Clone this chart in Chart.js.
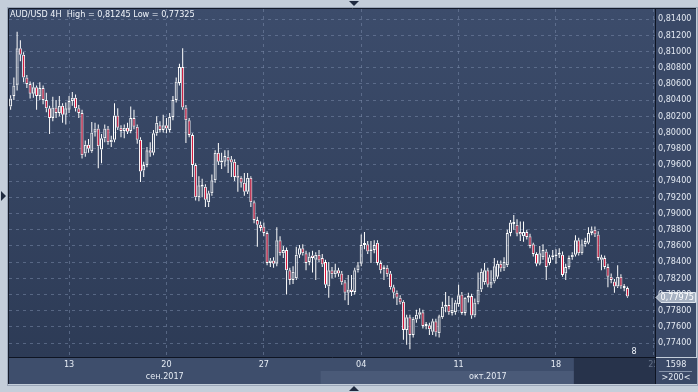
<!DOCTYPE html>
<html>
<head>
<meta charset="utf-8">
<script src="https://cdn.jsdelivr.net/npm/chart.js@4.4.0/dist/chart.umd.min.js"></script>
<style>
html, body { margin: 0; padding: 0; background: #c4ceda; }
canvas { display: block; }
</style>
</head>
<body>
<canvas id="myChart" width="698" height="392"></canvas>
<script>
// AUD/USD 4H candles (0.xxxxx)
var opens = [
0.8032,0.8045,0.8058,0.8104,0.8096,0.8068,0.8060,0.8048,0.8056,0.8045,
0.8055,0.8040,0.8030,0.8018,0.8031,0.8024,0.8033,0.8022,0.8028,0.8039,
0.8043,0.8030,0.8024,0.7974,0.7985,0.7977,0.8000,0.8005,0.7979,0.7993,
0.8005,0.7988,0.7991,0.8021,0.8006,0.8002,0.8006,0.8002,0.8018,0.8007,
0.7991,0.7953,0.7960,0.7978,0.7975,0.7999,0.8009,0.8003,0.8009,0.8003,
0.8019,0.8040,0.8061,0.8081,0.8031,0.8015,0.7997,0.7960,0.7920,0.7935,
0.7933,0.7914,0.7925,0.7941,0.7975,0.7963,0.7964,0.7970,0.7967,0.7964,
0.7947,0.7944,0.7938,0.7927,0.7944,0.7914,0.7892,0.7886,0.7884,0.7876,
0.7839,0.7842,0.7838,0.7867,0.7851,0.7855,0.7830,0.7818,0.7820,0.7849,
0.7857,0.7851,0.7840,0.7848,0.7843,0.7849,0.7845,0.7840,0.7810,0.7830,
0.7825,0.7830,0.7826,0.7815,0.7802,0.7806,0.7803,0.7830,0.7838,0.7861,
0.7862,0.7853,0.7855,0.7864,0.7839,0.7831,0.7833,0.7826,0.7809,0.7802,
0.7796,0.7791,0.7756,0.7772,0.7750,0.7769,0.7775,0.7778,0.7761,0.7762,
0.7754,0.7767,0.7752,0.7772,0.7785,0.7787,0.7777,0.7778,0.7788,0.7800,
0.7777,0.7796,0.7798,0.7774,0.7790,0.7806,0.7815,0.7830,0.7812,0.7816,
0.7822,0.7838,0.7832,0.7836,0.7876,0.7889,0.7886,0.7877,0.7872,0.7877,
0.7872,0.7862,0.7850,0.7838,0.7846,0.7853,0.7839,0.7846,0.7847,0.7849,
0.7849,0.7826,0.7834,0.7846,0.7849,0.7867,0.7851,0.7862,0.7864,0.7876,
0.7880,0.7874,0.7843,0.7845,0.7834,0.7822,0.7816,0.7810,0.7822,0.7810,
0.7808
];
var highs = [
0.8046,0.8068,0.81245,0.8114,0.8099,0.8071,0.8063,0.8062,0.8058,0.8062,
0.8058,0.8049,0.8033,0.8044,0.8040,0.8045,0.8036,0.8037,0.8045,0.8050,
0.8047,0.8034,0.8028,0.7990,0.7992,0.8013,0.8012,0.8010,0.7998,0.8010,
0.8008,0.7996,0.8036,0.8030,0.8009,0.8010,0.8012,0.8032,0.8028,0.8010,
0.7994,0.7964,0.7982,0.7988,0.8003,0.8020,0.8014,0.8022,0.8018,0.8024,
0.8045,0.8068,0.8085,0.8104,0.8034,0.8018,0.7999,0.7962,0.7946,0.7943,
0.7936,0.7928,0.7948,0.7978,0.7987,0.7975,0.7978,0.7978,0.7971,0.7967,
0.7960,0.7946,0.7950,0.7950,0.7946,0.7916,0.7896,0.7890,0.7889,0.7878,
0.7845,0.7846,0.7883,0.7872,0.7860,0.7858,0.7833,0.7835,0.7859,0.7861,
0.7862,0.7854,0.7852,0.7854,0.7852,0.7855,0.7850,0.7843,0.7840,0.7834,
0.7838,0.7833,0.7829,0.7818,0.7824,0.7824,0.7833,0.7840,0.7874,0.7877,
0.7866,0.7866,0.7867,0.7867,0.7842,0.7836,0.7836,0.7829,0.7812,0.7805,
0.7799,0.7793,0.7775,0.7775,0.7772,0.7781,0.7783,0.7781,0.7766,0.7765,
0.7770,0.7770,0.7775,0.7791,0.7803,0.7798,0.7796,0.7793,0.7812,0.7803,
0.7797,0.7802,0.7801,0.7795,0.7827,0.7832,0.7839,0.7833,0.7830,0.7845,
0.7842,0.7842,0.7846,0.7880,0.7892,0.7898,0.7893,0.7890,0.7890,0.7880,
0.7875,0.7864,0.7852,0.7860,0.7862,0.7856,0.7849,0.7855,0.7856,0.7857,
0.7853,0.7838,0.7848,0.7852,0.7873,0.7870,0.7868,0.7870,0.7883,0.7884,
0.7884,0.7878,0.7849,0.7848,0.7838,0.7826,0.7819,0.7836,0.7825,0.7813,
0.7810
];
var lows = [
0.8028,0.8040,0.8052,0.8088,0.8062,0.8055,0.8042,0.8043,0.8028,0.8040,
0.8035,0.8025,0.7998,0.8014,0.8018,0.8020,0.8012,0.8010,0.8024,0.8033,
0.8026,0.8018,0.7968,0.7970,0.7975,0.7975,0.7995,0.7956,0.7962,0.7988,
0.7985,0.7982,0.7988,0.8003,0.7994,0.7993,0.7998,0.7999,0.8004,0.7986,
0.7939,0.7945,0.7957,0.7970,0.7972,0.7996,0.8000,0.8000,0.7999,0.8000,
0.8015,0.8037,0.8058,0.8028,0.7987,0.7994,0.7945,0.7916,0.7915,0.7920,
0.7908,0.7908,0.7922,0.7938,0.7960,0.7955,0.7958,0.7950,0.7945,0.7940,
0.7927,0.7932,0.7922,0.7924,0.7908,0.7888,0.7859,0.7878,0.7872,0.7836,
0.7834,0.7833,0.7835,0.7848,0.7845,0.7800,0.7812,0.7813,0.7818,0.7845,
0.7848,0.7830,0.7836,0.7827,0.7818,0.7840,0.7834,0.7808,0.7796,0.7820,
0.7821,0.7822,0.7812,0.7793,0.7787,0.7798,0.7800,0.7827,0.7835,0.7856,
0.7850,0.7839,0.7851,0.7836,0.7826,0.7818,0.7822,0.7806,0.7795,0.7787,
0.7788,0.7744,0.7738,0.77325,0.7747,0.7765,0.7770,0.7758,0.7757,0.7750,
0.7750,0.7748,0.7747,0.7770,0.7778,0.7775,0.7774,0.7775,0.7785,0.7775,
0.7774,0.7790,0.7770,0.7772,0.7788,0.7803,0.7812,0.7809,0.7808,0.7814,
0.7819,0.7828,0.7829,0.7834,0.7872,0.7880,0.7872,0.7866,0.7865,0.7868,
0.7857,0.7847,0.7835,0.7836,0.7843,0.7818,0.7836,0.7843,0.7838,0.7845,
0.7822,0.7818,0.7831,0.7843,0.7847,0.7848,0.7849,0.7859,0.7862,0.7873,
0.7871,0.7842,0.7830,0.7831,0.7809,0.7814,0.7802,0.7808,0.7807,0.7804,
0.7796
];
var closes = [
0.8042,0.8058,0.8104,0.8096,0.8068,0.8060,0.8048,0.8056,0.8045,0.8055,
0.8040,0.8030,0.8018,0.8031,0.8024,0.8033,0.8022,0.8030,0.8039,0.8043,
0.8030,0.8024,0.7972,0.7985,0.7980,0.8000,0.8005,0.7983,0.7993,0.8005,
0.7988,0.7991,0.8021,0.8006,0.8002,0.8006,0.8001,0.8018,0.8007,0.7991,
0.7952,0.7960,0.7978,0.7975,0.7999,0.8012,0.8003,0.8009,0.8005,0.8019,
0.8040,0.8063,0.8081,0.8031,0.8015,0.7997,0.7960,0.7920,0.7935,0.7933,
0.7917,0.7925,0.7941,0.7975,0.7964,0.7965,0.7971,0.7965,0.7963,0.7945,
0.7944,0.7938,0.7927,0.7944,0.7914,0.7892,0.7886,0.7882,0.7876,0.7839,
0.7842,0.7838,0.7867,0.7851,0.7855,0.7830,0.7818,0.7828,0.7849,0.7857,
0.7851,0.7839,0.7847,0.7845,0.7849,0.7842,0.7837,0.7812,0.7830,0.7825,
0.7830,0.7826,0.7815,0.7802,0.7806,0.7803,0.7830,0.7836,0.7861,0.7862,
0.7853,0.7855,0.7861,0.7839,0.7830,0.7833,0.7825,0.7809,0.7802,0.7796,
0.7790,0.7756,0.7772,0.7750,0.7770,0.7775,0.7778,0.7761,0.7763,0.7757,
0.7767,0.7753,0.7773,0.7785,0.7787,0.7778,0.7781,0.7790,0.7799,0.7777,
0.7796,0.7798,0.7774,0.7790,0.7806,0.7828,0.7830,0.7812,0.7816,0.7835,
0.7838,0.7832,0.7840,0.7876,0.7889,0.7887,0.7875,0.7874,0.7877,0.7871,
0.7860,0.7850,0.7838,0.7851,0.7855,0.7834,0.7846,0.7848,0.7849,0.7850,
0.7824,0.7834,0.7845,0.7849,0.7867,0.7851,0.7862,0.7866,0.7876,0.7879,
0.7874,0.7845,0.7846,0.7834,0.7822,0.7818,0.7810,0.7822,0.7810,0.7808,
0.77975
];

// time axis: 199 slots of 4H in the window, day ticks every 30 bars
var slotCount = 199;
var dayTickIdx = [18, 48, 78, 108, 138, 168, 198];
var dayTickText = ['13', '20', '27', '04', '11', '18', '25'];
var monthText = ['сен.2017', 'окт.2017'];
var monthStartIdx = [0, 96];
var scrollStartIdx = 174;

var yMin = 0.77228, yMax = 0.81525, yStep = 0.002;
var titleText = 'AUD/USD 4H  High = 0,81245 Low = 0,77325';

var FONT = "'DejaVu Sans Condensed', 'Liberation Sans', Arial, sans-serif";
var gridColor = 'rgba(120,136,168,0.55)';
var upFill = 'rgba(0,0,0,0)';
var downFill = '#e3163b';

// size text so it takes about the same width as in the terminal
var mctx = document.createElement('canvas').getContext('2d');
mctx.font = '10px ' + FONT;
function fitSize(txt, target) {
    return Math.min(11, Math.round(10 * target / mctx.measureText(txt).width * 2) / 2);
}
var fontSize = fitSize('0,81400', 33);
var titleSize = fitSize(titleText, 183);

var labels = [];
for (var i = 0; i < slotCount; i++) labels.push('');
dayTickIdx.forEach(function (k, n) { labels[k] = dayTickText[n]; });

var wickLow = lows.map(function (l, i) { return [l, Math.min(opens[i], closes[i])]; });
var wickHigh = highs.map(function (h, i) { return [Math.max(opens[i], closes[i]), h]; });
var bodies = opens.map(function (o, i) { return [o, closes[i]]; });
var bodyFill = opens.map(function (o, i) { return closes[i] < o ? downFill : upFill; });

function fmt(v) { return v.toFixed(5).replace('.', ','); }

// backgrounds, panels and the terminal's extra labels
var framePlugin = {
    id: 'frame',
    beforeDraw: function (chart) {
        var ctx = chart.ctx, a = chart.chartArea, xs = chart.scales.x, ys = chart.scales.y;
        var step = (a.right - a.left) / slotCount;
        ctx.save();
        ctx.fillStyle = '#c4ceda';
        ctx.fillRect(0, 0, chart.width, chart.height);
        ctx.strokeStyle = '#9aa6b8';
        ctx.strokeRect(7.5, 7.5, 690, 378);

        var g = ctx.createLinearGradient(0, a.top, 0, a.bottom);
        g.addColorStop(0, '#3c4c6b');
        g.addColorStop(1, '#2d3b56');
        ctx.fillStyle = g;
        ctx.fillRect(a.left, a.top, a.right - a.left, a.bottom - a.top);

        // price axis panel
        ctx.fillStyle = '#3a4967';
        ctx.fillRect(a.right, a.top, ys.width, a.bottom - a.top);
        // time axis panel
        ctx.fillStyle = '#3e4e6c';
        ctx.fillRect(a.left, a.bottom, a.right - a.left, xs.height);

        // month bands
        var edges = monthStartIdx.map(function (k) { return a.left + k * step; });
        edges.push(a.right);
        ctx.fillStyle = '#4a5a78';
        ctx.fillRect(edges[1], a.bottom + 14, edges[2] - edges[1], xs.height - 14);
        var sx = a.left + scrollStartIdx * step;
        ctx.fillStyle = '#27334b';
        ctx.fillRect(sx, a.bottom, a.right - sx, xs.height);

        ctx.fillStyle = '#e6ecf4';
        ctx.font = fontSize + 'px ' + FONT;
        ctx.textAlign = 'center';
        ctx.textBaseline = 'middle';
        for (var m = 0; m < monthText.length; m++) {
            ctx.fillText(monthText[m], (edges[m] + edges[m + 1]) / 2, a.bottom + 20);
        }
        ctx.restore();
    },
    afterDraw: function (chart) {
        var ctx = chart.ctx, a = chart.chartArea, ys = chart.scales.y, xs = chart.scales.x;
        ctx.save();
        // plot border
        ctx.strokeStyle = '#151c2b';
        ctx.beginPath();
        ctx.moveTo(a.left - 0.5, a.bottom + xs.height);
        ctx.lineTo(a.left - 0.5, a.top - 0.5);
        ctx.lineTo(a.right + ys.width, a.top - 0.5);
        ctx.stroke();

        ctx.textBaseline = 'middle';
        ctx.fillStyle = '#f0f4fa';
        ctx.textAlign = 'left';
        ctx.font = titleSize + 'px ' + FONT;
        ctx.fillText(titleText, a.left + 1, a.top + 6);

        ctx.font = fontSize + 'px ' + FONT;
        ctx.textAlign = 'center';
        ctx.fillText('8', a.right - 21, a.bottom - 5);

        // last price tag
        var last = closes[closes.length - 1];
        var py = Math.round(ys.getPixelForValue(last)) + 0.5;
        ctx.beginPath();
        ctx.moveTo(a.right + 1, py);
        ctx.lineTo(a.right + 6, py - 5);
        ctx.lineTo(a.right + 40.5, py - 5);
        ctx.lineTo(a.right + 40.5, py + 5);
        ctx.lineTo(a.right + 6, py + 5);
        ctx.closePath();
        ctx.fillStyle = '#a7b2c2';
        ctx.fill();
        ctx.strokeStyle = '#dfe5ed';
        ctx.stroke();
        ctx.fillStyle = '#ffffff';
        ctx.textAlign = 'right';
        ctx.fillText(fmt(last), a.right + 39, py);

        // corner box
        ctx.fillStyle = '#3a4967';
        ctx.fillRect(a.right + 1, a.bottom + 1, ys.width, xs.height - 1);
        ctx.strokeStyle = '#0e1422';
        ctx.beginPath();
        ctx.moveTo(a.right + 0.5, a.bottom);
        ctx.lineTo(a.right + 0.5, a.bottom + xs.height);
        ctx.stroke();
        ctx.fillStyle = '#e6ecf4';
        ctx.textAlign = 'center';
        ctx.fillText('1598', a.right + 21, a.bottom + 8);
        ctx.fillText('>200<', a.right + 21, a.bottom + 21);
        ctx.strokeStyle = '#8795ab';
        ctx.beginPath();
        ctx.moveTo(a.right + 4, a.bottom + 14.5);
        ctx.lineTo(a.right + 37, a.bottom + 14.5);
        ctx.stroke();

        // scroll arrows on the frame
        ctx.fillStyle = '#1f2a3f';
        ctx.beginPath();
        ctx.moveTo(349, 1); ctx.lineTo(359, 1); ctx.lineTo(354, 6); ctx.closePath(); ctx.fill();
        ctx.beginPath();
        ctx.moveTo(349, 391); ctx.lineTo(359, 391); ctx.lineTo(354, 386); ctx.closePath(); ctx.fill();
        ctx.beginPath();
        ctx.moveTo(1, 191); ctx.lineTo(1, 201); ctx.lineTo(6, 196); ctx.closePath(); ctx.fill();
        ctx.restore();
    }
};

var ctx = document.getElementById('myChart').getContext('2d');
var chart = new Chart(ctx, {
    type: 'bar',
    data: {
        labels: labels,
        datasets: [
            { data: wickLow, backgroundColor: '#ffffff', barThickness: 1, grouped: false, order: 2, inflateAmount: 0 },
            { data: wickHigh, backgroundColor: '#ffffff', barThickness: 1, grouped: false, order: 2, inflateAmount: 0 },
            {
                data: bodies, backgroundColor: bodyFill, borderColor: '#ffffff', borderWidth: 1,
                borderSkipped: false, barThickness: 3, minBarLength: 2, grouped: false, order: 1, inflateAmount: 0
            }
        ]
    },
    options: {
        responsive: false,
        animation: false,
        devicePixelRatio: 1,
        layout: { padding: { left: 9, top: 9, right: 2, bottom: 8 } },
        plugins: { legend: { display: false }, tooltip: { enabled: false } },
        scales: {
            x: {
                grid: {
                    offset: false, drawTicks: false,
                    color: function (c) { return labels[c.index] ? gridColor : 'rgba(0,0,0,0)'; }
                },
                border: { display: true, color: '#0e1422', dash: [3, 4] },
                ticks: {
                    autoSkip: false, maxRotation: 0, padding: 2,
                    font: { family: FONT, size: fontSize },
                    color: function (c) { return c.index >= scrollStartIdx ? '#66738a' : '#e6ecf4'; }
                },
                afterFit: function (s) { s.height = 27; }
            },
            y: {
                position: 'right',
                min: yMin,
                max: yMax,
                grid: { color: gridColor, drawTicks: false },
                border: { display: true, color: '#0e1422', dash: [3, 4] },
                ticks: {
                    stepSize: yStep, includeBounds: false, autoSkip: false, padding: 3,
                    font: { family: FONT, size: fontSize }, color: '#e3e9f2',
                    callback: function (v) { return fmt(v); }
                },
                afterFit: function (s) { s.width = 41; }
            }
        }
    },
    plugins: [framePlugin]
});
</script>
</body>
</html>
